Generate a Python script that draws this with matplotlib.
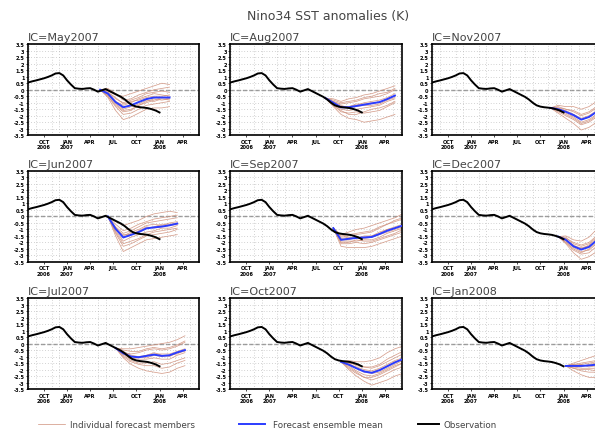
import matplotlib
matplotlib.use("Agg")
import matplotlib.pyplot as plt
from matplotlib.lines import Line2D

# x axis: months counted from Oct 2006 (= 0)
tick_pos = [0, 3, 6, 9, 12, 15, 18]
tick_labels = ["OCT\n2006", "JAN\n2007", "APR", "JUL", "OCT", "JAN\n2008", "APR"]
ytick_vals = [-3.5, -3, -2.5, -2, -1.5, -1, -0.5, 0, 0.5, 1, 1.5, 2, 2.5, 3, 3.5]

# observed Nino3.4 anomaly (K)
obs_m = [-2.1, -1.5, -1.0, -0.5, 0.0, 0.5, 1.0, 1.5, 2.0, 2.5, 3.0, 3.5, 4.0, 4.5,
         5.0, 5.5, 6.0, 6.5, 7.0, 7.5, 8.0, 8.5, 9.0, 9.5, 10.0, 10.5, 11.0, 11.5,
         12.0, 12.5, 13.0, 13.5, 14.0, 14.5, 15.0]
obs_val = [0.55, 0.65, 0.72, 0.8, 0.88, 0.98, 1.1, 1.25, 1.28, 1.1, 0.72, 0.4, 0.12, 0.08,
           0.06, 0.1, 0.12, 0.0, -0.15, -0.05, 0.05, -0.1, -0.25, -0.4, -0.55, -0.75, -1.0, -1.2,
           -1.3, -1.35, -1.38, -1.42, -1.5, -1.6, -1.75]

ic_names = ["May2007", "Aug2007", "Nov2007",
            "Jun2007", "Sep2007", "Dec2007",
            "Jul2007", "Oct2007", "Jan2008"]
ic_month = [7, 10, 13, 8, 11, 14, 9, 12, 15]
lead = [0.3, 1.3, 2.3, 3.3, 4.3, 5.3, 6.3, 7.3, 8.3, 9.3]

ens_mean = {
    "May2007": [0.0, -0.3, -0.95, -1.35, -1.2, -0.95, -0.72, -0.6, -0.6, -0.6],
    "Jun2007": [0.0, -0.95, -1.62, -1.42, -1.2, -0.92, -0.84, -0.78, -0.68, -0.55],
    "Jul2007": [-0.35, -0.75, -1.0, -1.05, -0.95, -0.85, -0.95, -0.9, -0.68, -0.5],
    "Aug2007": [-0.65, -1.0, -1.35, -1.35, -1.25, -1.15, -1.05, -0.95, -0.72, -0.45],
    "Sep2007": [-0.9, -1.8, -1.72, -1.65, -1.62, -1.58, -1.35, -1.1, -0.9, -0.7],
    "Oct2007": [-1.4, -1.62, -1.9, -2.15, -2.25, -2.05, -1.75, -1.45, -1.2, -1.0],
    "Nov2007": [-1.4, -1.5, -1.7, -1.95, -2.3, -2.1, -1.7, -1.4, -1.2, -1.0],
    "Dec2007": [-1.55, -1.8, -2.3, -2.55, -2.35, -1.85, -1.5, -1.2, -1.0, -0.8],
    "Jan2008": [-1.72, -1.72, -1.72, -1.68, -1.62, -1.58, -1.45, -1.3, -1.1, -0.9],
}

members_may = [
    [0.0, -0.1, -0.4, -0.5, -0.3, -0.1, 0.1, 0.3, 0.5, 0.4],
    [0.0, -0.5, -1.3, -1.9, -1.8, -1.5, -1.2, -1.1, -1.0, -0.9],
    [0.0, -0.2, -0.7, -1.0, -0.8, -0.6, -0.3, -0.2, -0.1, -0.2],
    [0.0, -0.6, -1.6, -2.3, -2.1, -1.8, -1.5, -1.4, -1.4, -1.3],
    [0.0, -0.3, -0.9, -1.2, -1.0, -0.7, -0.5, -0.3, -0.4, -0.5],
    [0.0, -0.4, -1.1, -1.6, -1.5, -1.2, -0.9, -0.7, -0.8, -0.7],
    [0.0, 0.1, -0.3, -0.8, -0.7, -0.4, -0.2, 0.0, 0.1, 0.2],
    [0.0, -0.3, -1.0, -1.5, -1.3, -1.1, -0.8, -0.9, -0.7, -0.8],
    [0.0, -0.5, -1.2, -1.7, -1.6, -1.2, -1.0, -0.8, -0.6, -0.7],
    [0.0, -0.2, -0.6, -1.1, -0.9, -0.8, -0.6, -0.5, -0.5, -0.4],
]
members_jun = [
    [0.0, -0.4, -0.7, -0.5, -0.3, 0.0, 0.2, 0.3, 0.4, 0.3],
    [0.0, -1.5, -2.7, -2.4, -2.1, -1.8, -1.7, -1.6, -1.5, -1.4],
    [0.0, -0.8, -1.3, -1.1, -0.8, -0.5, -0.4, -0.3, -0.2, -0.1],
    [0.0, -1.2, -2.1, -1.9, -1.7, -1.4, -1.2, -1.1, -1.0, -0.9],
    [0.0, -0.9, -1.5, -1.2, -1.0, -0.7, -0.6, -0.7, -0.5, -0.4],
    [0.0, -1.1, -1.9, -1.6, -1.4, -1.2, -1.1, -0.9, -0.9, -0.7],
    [0.0, -0.6, -1.1, -0.9, -0.6, -0.4, -0.2, -0.1, 0.0, 0.1],
    [0.0, -1.3, -2.3, -2.1, -1.8, -1.5, -1.4, -1.3, -1.2, -1.0],
    [0.0, -0.9, -1.6, -1.3, -1.2, -0.9, -0.8, -0.6, -0.6, -0.5],
    [0.0, -1.0, -1.4, -1.4, -1.1, -0.8, -0.9, -0.8, -0.7, -0.6],
]
members_jul = [
    [-0.35, -0.4, -0.4, -0.3, -0.2, -0.1, 0.0, 0.1, 0.3, 0.6],
    [-0.35, -1.1, -1.6, -1.9, -2.1, -2.2, -2.3, -2.2, -1.9, -1.7],
    [-0.35, -0.7, -0.8, -0.7, -0.5, -0.4, -0.5, -0.4, -0.2, 0.1],
    [-0.35, -0.9, -1.3, -1.5, -1.5, -1.4, -1.6, -1.5, -1.3, -1.1],
    [-0.35, -0.6, -0.9, -1.0, -0.9, -0.8, -0.8, -0.8, -0.6, -0.4],
    [-0.35, -0.8, -1.1, -1.2, -1.2, -1.1, -1.2, -1.2, -0.9, -0.7],
    [-0.35, -0.5, -0.6, -0.6, -0.4, -0.3, -0.4, -0.3, -0.1, 0.2],
    [-0.35, -1.0, -1.4, -1.6, -1.7, -1.7, -1.9, -1.8, -1.5, -1.3],
    [-0.35, -0.7, -1.0, -1.1, -0.9, -0.7, -0.9, -1.0, -0.7, -0.6],
    [-0.35, -0.8, -1.2, -1.0, -1.1, -0.9, -1.0, -0.9, -0.8, -0.5],
]
members_aug = [
    [-0.65, -0.7, -0.9, -0.7, -0.6, -0.4, -0.3, -0.1, 0.1, 0.3],
    [-0.65, -1.3, -1.9, -2.2, -2.3, -2.5, -2.4, -2.3, -2.1, -1.9],
    [-0.65, -0.9, -1.1, -1.0, -0.9, -0.7, -0.6, -0.5, -0.3, 0.0],
    [-0.65, -1.2, -1.7, -1.8, -1.7, -1.8, -1.7, -1.6, -1.3, -1.0],
    [-0.65, -1.0, -1.3, -1.3, -1.2, -1.0, -0.9, -0.8, -0.6, -0.3],
    [-0.65, -1.1, -1.5, -1.6, -1.5, -1.4, -1.3, -1.2, -0.9, -0.7],
    [-0.65, -0.8, -1.0, -0.9, -0.8, -0.6, -0.5, -0.3, -0.2, 0.1],
    [-0.65, -1.2, -1.6, -1.9, -1.9, -1.7, -1.5, -1.4, -1.2, -0.9],
    [-0.65, -1.0, -1.4, -1.3, -1.1, -1.1, -1.0, -1.0, -0.7, -0.5],
    [-0.65, -0.9, -1.2, -1.4, -1.3, -1.2, -1.2, -1.1, -0.8, -0.6],
]
members_sep = [
    [-0.9, -1.4, -1.2, -1.0, -0.9, -0.7, -0.5, -0.3, -0.1, 0.2],
    [-0.9, -2.3, -2.4, -2.4, -2.4, -2.3, -2.1, -1.9, -1.7, -1.5],
    [-0.9, -1.6, -1.5, -1.4, -1.3, -1.2, -0.9, -0.6, -0.4, -0.2],
    [-0.9, -2.1, -2.1, -2.0, -2.1, -2.0, -1.8, -1.6, -1.4, -1.2],
    [-0.9, -1.8, -1.7, -1.6, -1.6, -1.5, -1.3, -1.0, -0.8, -0.6],
    [-0.9, -1.9, -1.9, -1.9, -1.8, -1.8, -1.6, -1.3, -1.1, -0.9],
    [-0.9, -1.5, -1.4, -1.3, -1.2, -1.1, -0.8, -0.6, -0.3, -0.1],
    [-0.9, -2.0, -2.0, -1.8, -1.9, -1.9, -1.7, -1.5, -1.3, -1.0],
    [-0.9, -1.7, -1.6, -1.7, -1.5, -1.5, -1.2, -1.0, -0.9, -0.7],
    [-0.9, -1.8, -1.8, -1.6, -1.7, -1.6, -1.4, -1.2, -1.0, -0.8],
]
members_oct = [
    [-1.4, -1.3, -1.4, -1.4, -1.3, -1.1, -0.7, -0.4, -0.2, 0.0],
    [-1.4, -2.0, -2.5, -2.9, -3.2, -3.0, -2.8, -2.5, -2.3, -2.1],
    [-1.4, -1.5, -1.6, -1.8, -1.8, -1.6, -1.2, -0.9, -0.6, -0.4],
    [-1.4, -1.8, -2.2, -2.6, -2.8, -2.6, -2.3, -2.0, -1.8, -1.6],
    [-1.4, -1.6, -1.9, -2.1, -2.2, -2.0, -1.7, -1.4, -1.2, -1.0],
    [-1.4, -1.7, -2.1, -2.4, -2.5, -2.3, -2.0, -1.7, -1.5, -1.3],
    [-1.4, -1.4, -1.7, -1.8, -1.9, -1.7, -1.4, -1.1, -0.8, -0.6],
    [-1.4, -1.9, -2.3, -2.6, -2.6, -2.4, -2.1, -1.8, -1.5, -1.3],
    [-1.4, -1.6, -1.8, -2.0, -2.1, -1.9, -1.6, -1.3, -1.1, -0.9],
    [-1.4, -1.5, -1.9, -2.2, -2.3, -2.2, -1.9, -1.6, -1.3, -1.1],
]
members_nov = [
    [-1.4, -1.2, -1.3, -1.3, -1.5, -1.3, -0.9, -0.6, -0.4, -0.2],
    [-1.4, -1.8, -2.2, -2.6, -3.1, -2.9, -2.5, -2.2, -2.0, -1.8],
    [-1.4, -1.4, -1.5, -1.6, -1.9, -1.7, -1.3, -1.0, -0.8, -0.6],
    [-1.4, -1.7, -2.0, -2.3, -2.7, -2.5, -2.1, -1.8, -1.6, -1.4],
    [-1.4, -1.5, -1.7, -1.9, -2.3, -2.1, -1.7, -1.4, -1.2, -1.0],
    [-1.4, -1.6, -1.8, -2.1, -2.5, -2.3, -1.9, -1.6, -1.4, -1.2],
    [-1.4, -1.3, -1.5, -1.7, -2.0, -1.8, -1.4, -1.1, -0.9, -0.7],
    [-1.4, -1.6, -1.9, -2.2, -2.6, -2.4, -2.0, -1.7, -1.5, -1.3],
    [-1.4, -1.5, -1.6, -1.9, -2.2, -2.0, -1.6, -1.3, -1.0, -0.8],
    [-1.4, -1.4, -1.7, -2.0, -2.3, -2.1, -1.7, -1.5, -1.2, -1.0],
]
members_dec = [
    [-1.55, -1.5, -1.8, -1.9, -1.6, -1.0, -0.6, -0.3, -0.1, 0.1],
    [-1.55, -2.1, -2.8, -3.3, -3.1, -2.7, -2.4, -2.1, -1.9, -1.7],
    [-1.55, -1.7, -2.0, -2.2, -2.0, -1.5, -1.1, -0.8, -0.6, -0.4],
    [-1.55, -2.0, -2.6, -2.9, -2.8, -2.3, -2.0, -1.7, -1.5, -1.3],
    [-1.55, -1.8, -2.3, -2.5, -2.3, -1.8, -1.5, -1.2, -1.0, -0.8],
    [-1.55, -1.9, -2.4, -2.7, -2.6, -2.1, -1.8, -1.5, -1.3, -1.1],
    [-1.55, -1.6, -2.1, -2.3, -2.1, -1.6, -1.2, -0.9, -0.7, -0.5],
    [-1.55, -2.0, -2.5, -2.8, -2.5, -2.0, -1.7, -1.4, -1.2, -1.0],
    [-1.55, -1.8, -2.2, -2.5, -2.2, -1.7, -1.4, -1.1, -0.9, -0.7],
    [-1.55, -1.7, -2.3, -2.4, -2.3, -1.9, -1.5, -1.3, -1.0, -0.8],
]
members_jan = [
    [-1.72, -1.5, -1.3, -1.1, -0.9, -0.8, -0.6, -0.4, -0.2, 0.0],
    [-1.72, -2.1, -2.4, -2.6, -2.6, -2.5, -2.4, -2.2, -2.0, -1.8],
    [-1.72, -1.6, -1.5, -1.4, -1.3, -1.2, -1.0, -0.8, -0.6, -0.4],
    [-1.72, -1.9, -2.1, -2.2, -2.2, -2.1, -2.0, -1.8, -1.6, -1.4],
    [-1.72, -1.7, -1.7, -1.7, -1.6, -1.6, -1.4, -1.3, -1.1, -0.9],
    [-1.72, -1.8, -1.9, -1.9, -1.9, -1.8, -1.7, -1.5, -1.3, -1.1],
    [-1.72, -1.6, -1.6, -1.5, -1.4, -1.3, -1.2, -1.0, -0.8, -0.6],
    [-1.72, -1.9, -2.0, -2.0, -2.1, -2.0, -1.8, -1.7, -1.5, -1.3],
    [-1.72, -1.7, -1.8, -1.6, -1.5, -1.5, -1.3, -1.2, -1.0, -0.8],
    [-1.72, -1.8, -1.6, -1.8, -1.7, -1.6, -1.5, -1.3, -1.1, -0.9],
]
ens_members = {
    "May2007": members_may, "Jun2007": members_jun, "Jul2007": members_jul,
    "Aug2007": members_aug, "Sep2007": members_sep, "Oct2007": members_oct,
    "Nov2007": members_nov, "Dec2007": members_dec, "Jan2008": members_jan,
}

MEMBER_COLOR = "#cf8f7a"
MEAN_COLOR = "#2b3cff"

fig = plt.figure(figsize=(5.95, 4.31), dpi=100)
fig.text(0.551, 0.962, "Nino34 SST anomalies (K)", ha="center", va="center",
         fontsize=9, color="#444444")

col_left = [0.047, 0.387, 0.726]
row_bottom = [0.684, 0.390, 0.095]
ax_w, ax_h = 0.288, 0.211

for i, name in enumerate(ic_names):
    r, c = divmod(i, 3)
    ax = fig.add_axes([col_left[c], row_bottom[r], ax_w, ax_h])
    fx = [ic_month[i] + l for l in lead]
    for mem in ens_members[name]:
        ax.plot(fx, mem, color=MEMBER_COLOR, lw=0.55, alpha=0.85, zorder=2)
    ax.plot(fx, ens_mean[name], color=MEAN_COLOR, lw=1.4, zorder=3)
    ax.plot(obs_m, obs_val, color="black", lw=1.4, zorder=4)
    ax.axhline(0, color="#999999", lw=1.0, ls=(0, (3, 1.5)), zorder=1)

    ax.set_xlim(-2.08, 20.17)
    ax.set_ylim(-3.5, 3.5)
    ax.set_xticks(tick_pos)
    ax.set_xticklabels(tick_labels, fontsize=3.6, fontweight="bold")
    ax.set_xticks(range(-2, 21), minor=True)
    ax.set_yticks(ytick_vals)
    ax.set_yticklabels([f"{v:g}" for v in ytick_vals], fontsize=3.6, fontweight="bold")
    ax.tick_params(axis="both", which="major", length=1.5, width=0.5, pad=1)
    ax.tick_params(axis="x", which="minor", length=0)
    ax.grid(True, axis="x", which="minor", color="#aaaaaa", lw=0.5, ls=(0, (1, 3)))
    ax.grid(True, axis="y", which="major", color="#aaaaaa", lw=0.5, ls=(0, (1, 3)))
    for sp in ax.spines.values():
        sp.set_linewidth(1.2)
    ax.text(0.0, 1.02, "IC=" + name, transform=ax.transAxes, ha="left", va="bottom",
            fontsize=8, color="#444444")

# legend row at the bottom
leg_y = 0.013
legend_items = [
    (MEMBER_COLOR, 0.5, 0.064, 0.110, 0.118, "Individual forecast members"),
    (MEAN_COLOR, 1.4, 0.402, 0.445, 0.458, "Forecast ensemble mean"),
    ("black", 1.4, 0.703, 0.737, 0.745, "Observation"),
]
for col, lw, x0, x1, xt, label in legend_items:
    fig.add_artist(Line2D([x0, x1], [leg_y, leg_y], color=col, lw=lw,
                          transform=fig.transFigure))
    fig.text(xt, leg_y, label, ha="left", va="center", fontsize=6.3, color="#444444")

plt.savefig("out.png", dpi=100)
plt.close()
